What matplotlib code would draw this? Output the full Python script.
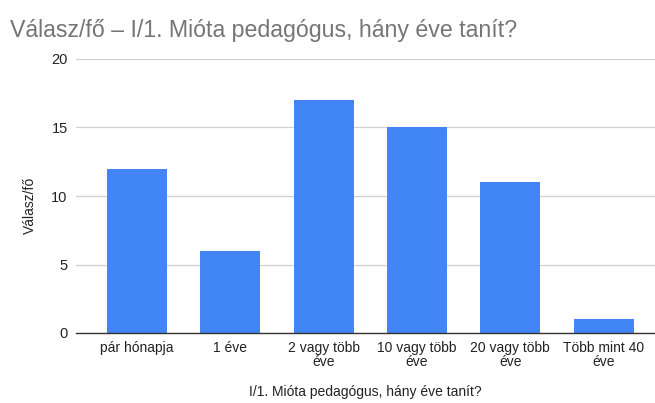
import matplotlib
matplotlib.use('Agg')
import matplotlib.pyplot as plt

plt.rcParams['font.family'] = ['Liberation Sans', 'DejaVu Sans']

# Chart data
categories = ['pár hónapja', '1 éve', '2 vagy több\néve', '10 vagy több\néve',
              '20 vagy több\néve', 'Több mint 40\néve']
values = [12, 6, 17, 15, 11, 1]
y_ticks = [0, 5, 10, 15, 20]

fig = plt.figure(figsize=(6.55, 4.03), dpi=100)
ax = fig.add_axes([76 / 655, 1 - 333 / 403, 1 - 76 / 655, (333 - 59) / 403])

x = range(len(categories))
ax.bar(x, values, width=0.64, color='#4285F4', zorder=3)

ax.set_xlim(-0.654, 5.55)
ax.set_ylim(0, 20)
ax.set_yticks(y_ticks)
ax.set_xticks(list(x))
ax.set_xticklabels(categories, fontsize=10, color='#222222', linespacing=0.95)
ax.tick_params(axis='y', labelsize=10.5, labelcolor='#222222', length=0, pad=6)
ax.tick_params(axis='x', length=0, pad=6)

ax.grid(axis='y', color='#d0d0d0', linewidth=0.9, zorder=0)
for s in ['top', 'right', 'left']:
    ax.spines[s].set_visible(False)
ax.spines['bottom'].set_color('#333333')
ax.spines['bottom'].set_linewidth(1.0)
ax.spines['bottom'].set_zorder(4)

# axis titles placed in figure pixels
fig.text(30 / 655, 1 - 205 / 403, 'Válasz/fő', fontsize=10, color='#222222',
         rotation=90, ha='center', va='center')
fig.text(365 / 655, 1 - 392 / 403, 'I/1. Mióta pedagógus, hány éve tanít?',
         fontsize=10, color='#222222', ha='center', va='center')

fig.text(10 / 655, 1 - 30 / 403, 'Válasz/fő – I/1. Mióta pedagógus, hány éve tanít?',
         fontsize=16.7, color='#757575', va='center', ha='left')

fig.savefig('out.png', dpi=100)
